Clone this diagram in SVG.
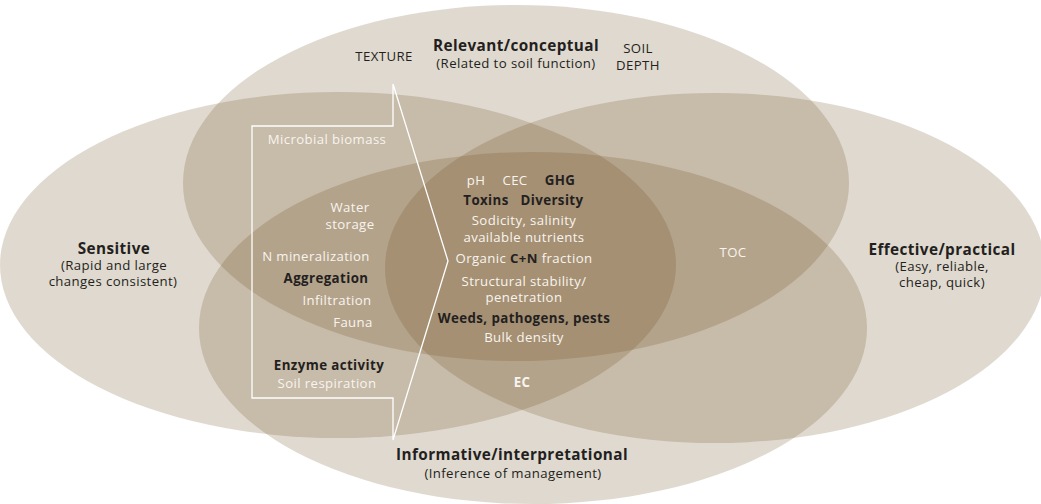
<svg xmlns="http://www.w3.org/2000/svg" width="1041" height="504" viewBox="0 0 1041 504">
<style>
  .ell { fill: #6e4b1e; fill-opacity: 0.21; stroke: none; }
  text { font-family: "Open Sans", "Noto Sans", "Liberation Sans", sans-serif; text-anchor: middle; letter-spacing: 0.4px; }
  .d { fill: #231f20; font-size: 13.2px; }
  .db { fill: #231f20; font-size: 13.3px; font-weight: bold; }
  .title { fill: #231f20; font-size: 15.3px; font-weight: bold; }
  .w { fill: #f8f4ef; font-size: 13.2px; }
  .wb { fill: #f8f4ef; font-size: 13.3px; font-weight: bold; }
  .bracket { fill: none; stroke: #ffffff; stroke-width: 1.3; stroke-linejoin: miter; }
</style>
<rect width="1041" height="504" fill="#ffffff"/>
<g id="relevant">
  <ellipse class="ell" cx="516" cy="183" rx="333" ry="178"/>
  <text class="title" x="516" y="51">Relevant/conceptual</text>
  <text class="d" x="516" y="68">(Related to soil function)</text>
  <text class="d" x="384" y="61">TEXTURE</text>
  <text class="d" x="638" y="53">SOIL</text>
  <text class="d" x="638" y="70">DEPTH</text>
</g>
<g id="sensitive">
  <ellipse class="ell" cx="338" cy="265" rx="338" ry="173"/>
  <text class="title" x="114" y="254">Sensitive</text>
  <text class="d" x="114" y="270">(Rapid and large</text>
  <text class="d" x="113" y="286">changes consistent)</text>
</g>
<g id="effective">
  <ellipse class="ell" cx="715" cy="268" rx="330" ry="175"/>
  <text class="title" x="942" y="255">Effective/practical</text>
  <text class="d" x="942" y="271">(Easy, reliable,</text>
  <text class="d" x="942" y="287">cheap, quick)</text>
</g>
<g id="informative">
  <ellipse class="ell" cx="533" cy="328" rx="334" ry="176"/>
  <text class="title" x="512" y="460">Informative/interpretational</text>
  <text class="d" x="513" y="478">(Inference of management)</text>
</g>
<g id="connectors">
  <polyline class="bracket" points="393,84 393,126 252,126 252,398 393,398 393,440 448,261 393,84"/>
</g>
<g id="sensitive-relevant-items">
  <text class="w" x="327" y="144">Microbial biomass</text>
  <text class="w" x="350" y="212">Water</text>
  <text class="w" x="350" y="229">storage</text>
  <text class="w" x="316" y="261">N mineralization</text>
  <text class="db" x="326" y="283">Aggregation</text>
  <text class="w" x="337" y="305">Infiltration</text>
  <text class="w" x="353" y="327">Fauna</text>
  <text class="db" x="329" y="370">Enzyme activity</text>
  <text class="w" x="327" y="388">Soil respiration</text>
</g>
<g id="core-items">
  <text class="w" x="476" y="185">pH</text>
  <text class="w" x="515" y="185">CEC</text>
  <text class="db" x="560" y="185">GHG</text>
  <text class="db" x="486" y="205">Toxins</text>
  <text class="db" x="552" y="205">Diversity</text>
  <text class="w" x="524" y="225">Sodicity, salinity</text>
  <text class="w" x="524" y="242">available nutrients</text>
  <text class="w" x="524" y="263">Organic <tspan style="fill:#231f20;font-weight:bold">C+N</tspan> fraction</text>
  <text class="w" x="524" y="286">Structural stability/</text>
  <text class="w" x="524" y="302">penetration</text>
  <text class="db" x="524" y="323">Weeds, pathogens, pests</text>
  <text class="w" x="524" y="342">Bulk density</text>
</g>
<g id="other-items">
  <text class="w" x="733" y="257">TOC</text>
  <text class="wb" x="522" y="387">EC</text>
</g>
</svg>
